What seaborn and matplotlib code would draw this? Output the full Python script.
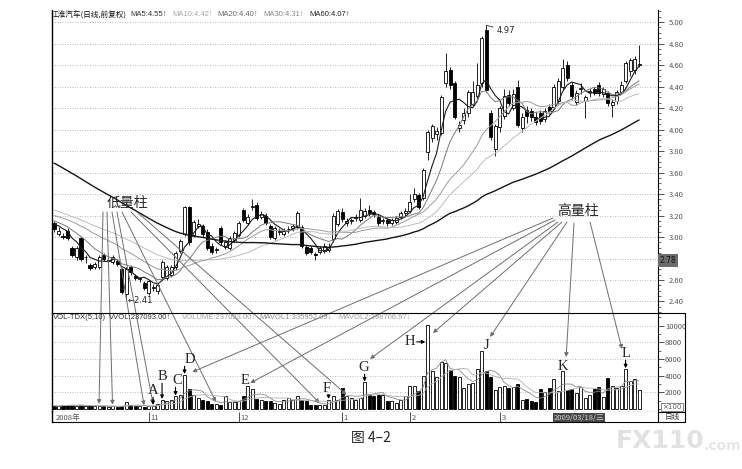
import matplotlib
matplotlib.use("Agg")
import matplotlib.pyplot as plt
from matplotlib.lines import Line2D
from matplotlib.ticker import MultipleLocator
import numpy as np
import pandas as pd
import seaborn as sns

# daily bars, Oct 2008 - Apr 2009 (prices in yuan, volume in lots of 100)
opens = [3.13, 3.03, 3.01, 3.06, 2.90, 2.81, 2.99, 2.81, 2.74, 2.72,
         2.72, 2.83, 2.78, 2.77, 2.78, 2.70, 2.47, 2.72, 2.64, 2.61,
         2.57, 2.48, 2.53, 2.50, 2.63, 2.62, 2.65, 2.72, 2.87, 3.03,
         3.28, 3.02, 3.10, 3.10, 3.05, 2.92, 2.88, 3.08, 2.91, 2.90,
         2.97, 3.02, 3.25, 3.13, 3.28, 3.30, 3.19, 3.20, 3.10, 2.99,
         3.05, 3.03, 3.07, 3.08, 3.09, 3.09, 2.91, 2.90, 2.84, 2.86,
         2.87, 2.88, 2.98, 3.12, 3.23, 3.13, 3.15, 3.18, 3.16, 3.20,
         3.25, 3.23, 3.19, 3.15, 3.16, 3.13, 3.14, 3.19, 3.22, 3.24,
         3.35, 3.39, 3.36, 3.79, 3.92, 3.96, 3.97, 4.43, 4.55, 4.43,
         4.01, 4.09, 4.15, 4.24, 4.31, 4.43, 4.93, 4.15, 3.82, 4.02,
         4.13, 4.32, 4.20, 4.40, 4.01, 4.18, 4.17, 4.12, 4.15, 4.10,
         4.21, 4.21, 4.27, 4.40, 4.60, 4.41, 4.26, 4.38, 4.27, 4.35,
         4.38, 4.41, 4.33, 4.34, 4.23, 4.27, 4.35, 4.45, 4.54, 4.55,
         4.60]
highs = [3.15, 3.09, 3.04, 3.08, 2.92, 2.92, 3.00, 2.83, 2.76, 2.77,
         2.83, 2.85, 2.80, 2.83, 2.80, 2.71, 2.72, 2.74, 2.66, 2.63,
         2.59, 2.60, 2.56, 2.57, 2.79, 2.74, 2.74, 2.87, 2.98, 3.29,
         3.29, 3.16, 3.17, 3.12, 3.07, 2.94, 2.91, 3.10, 2.97, 3.01,
         3.06, 3.15, 3.27, 3.21, 3.35, 3.33, 3.24, 3.22, 3.12, 3.10,
         3.08, 3.08, 3.10, 3.12, 3.24, 3.11, 2.93, 2.92, 2.86, 2.92,
         2.94, 2.94, 3.22, 3.26, 3.27, 3.18, 3.18, 3.21, 3.36, 3.27,
         3.30, 3.25, 3.21, 3.18, 3.18, 3.18, 3.20, 3.24, 3.27, 3.40,
         3.46, 3.41, 3.64, 4.00, 4.05, 4.02, 4.32, 4.71, 4.58, 4.45,
         4.08, 4.20, 4.37, 4.45, 4.62, 4.87, 4.97, 4.18, 4.05, 4.22,
         4.38, 4.37, 4.38, 4.46, 4.15, 4.22, 4.20, 4.16, 4.18, 4.20,
         4.24, 4.42, 4.48, 4.66, 4.64, 4.44, 4.37, 4.43, 4.32, 4.38,
         4.40, 4.44, 4.40, 4.36, 4.28, 4.37, 4.45, 4.64, 4.67, 4.68,
         4.79]
lows = [3.05, 3.01, 2.98, 2.97, 2.81, 2.79, 2.78, 2.76, 2.69, 2.70,
        2.70, 2.78, 2.76, 2.75, 2.73, 2.47, 2.41, 2.65, 2.60, 2.58,
        2.51, 2.46, 2.50, 2.47, 2.61, 2.60, 2.63, 2.69, 2.85, 3.01,
        2.93, 3.00, 3.08, 3.00, 2.88, 2.84, 2.85, 2.93, 2.89, 2.88,
        2.95, 3.00, 3.14, 3.11, 3.25, 3.16, 3.17, 3.11, 2.98, 2.97,
        3.02, 3.01, 3.04, 3.06, 3.07, 2.90, 2.83, 2.84, 2.79, 2.84,
        2.85, 2.86, 2.96, 3.10, 3.14, 3.10, 3.12, 3.15, 3.14, 3.18,
        3.20, 3.19, 3.10, 3.12, 3.10, 3.11, 3.12, 3.17, 3.20, 3.22,
        3.33, 3.26, 3.34, 3.72, 3.88, 3.90, 3.95, 4.40, 4.38, 4.10,
        3.98, 4.05, 4.12, 4.22, 4.28, 4.40, 4.35, 3.90, 3.75, 3.98,
        4.10, 4.22, 4.18, 4.02, 3.98, 4.06, 4.08, 4.04, 4.05, 4.07,
        4.14, 4.19, 4.24, 4.38, 4.45, 4.28, 4.23, 4.33, 4.11, 4.30,
        4.32, 4.31, 4.30, 4.22, 4.12, 4.24, 4.33, 4.43, 4.50, 4.52,
        4.58]
closes = [3.07, 3.06, 3.00, 2.99, 2.83, 2.90, 2.80, 2.81, 2.71, 2.75,
          2.81, 2.80, 2.78, 2.81, 2.75, 2.49, 2.70, 2.67, 2.62, 2.61,
          2.53, 2.59, 2.53, 2.55, 2.77, 2.72, 2.72, 2.85, 2.96, 3.28,
          2.95, 3.14, 3.12, 3.03, 2.90, 2.86, 2.88, 2.95, 2.95, 2.99,
          3.04, 3.13, 3.16, 3.19, 3.29, 3.18, 3.21, 3.13, 3.00, 3.08,
          3.05, 3.06, 3.07, 3.10, 3.22, 2.92, 2.85, 2.86, 2.83, 2.90,
          2.92, 2.91, 3.20, 3.24, 3.17, 3.15, 3.15, 3.18, 3.25, 3.24,
          3.22, 3.21, 3.13, 3.15, 3.13, 3.16, 3.18, 3.22, 3.24, 3.33,
          3.40, 3.28, 3.62, 3.98, 4.03, 3.99, 4.30, 4.54, 4.41, 4.12,
          4.04, 4.15, 4.35, 4.35, 4.41, 4.85, 4.37, 3.93, 4.03, 4.20,
          4.31, 4.25, 4.33, 4.04, 4.12, 4.13, 4.12, 4.07, 4.08, 4.17,
          4.17, 4.40, 4.45, 4.57, 4.48, 4.31, 4.34, 4.39, 4.30, 4.35,
          4.34, 4.34, 4.38, 4.25, 4.26, 4.35, 4.41, 4.62, 4.65, 4.66,
          4.61]
volumes = [400, 320, 480, 520, 480, 400, 480, 320, 320, 320,
           400, 320, 240, 320, 240, 400, 800, 480, 320, 320,
           240, 320, 400, 640, 1120, 920, 1120, 1520, 1720, 4120,
           2400, 1720, 1320, 1120, 920, 640, 640, 520, 1520, 800,
           800, 920, 1520, 2720, 2400, 1200, 1120, 920, 920, 720,
           640, 1120, 1320, 1120, 1520, 1120, 920, 520, 520, 520,
           520, 1120, 1520, 1120, 2520, 1520, 1320, 1120, 1320, 3200,
           1720, 1600, 1720, 1720, 920, 920, 720, 1120, 1520, 2720,
           2720, 2120, 3920, 10100, 4520, 3840, 5600, 5520, 4720, 4000,
           3840, 2520, 3040, 3120, 4800, 6920, 4520, 3840, 2320, 2640,
           2720, 2520, 2640, 3040, 1120, 1200, 920, 800, 2400, 2000,
           2520, 3600, 2120, 4520, 2240, 2400, 1920, 2640, 1320, 1720,
           2400, 2640, 1440, 3720, 2800, 2520, 2800, 4800, 3320, 3600,
           2320]
# closes before the visible window, only used to feed the moving averages
prior_closes = [4.42, 4.45, 4.40, 4.38, 4.35, 4.36, 4.30, 4.28, 4.31, 4.25,
                4.22, 4.20, 4.18, 4.15, 4.17, 4.12, 4.08, 4.05, 4.02, 4.06,
                4.00, 3.98, 3.95, 3.97, 3.92, 3.90, 3.88, 3.85, 3.80, 3.70,
                3.55, 3.45, 3.40, 3.38, 3.32, 3.35, 3.30, 3.28, 3.25, 3.30,
                3.28, 3.30, 3.25, 3.22, 3.27, 3.24, 3.20, 3.26, 3.23, 3.25,
                3.22, 3.18, 3.20, 3.15, 3.17, 3.12, 3.14, 3.10, 3.15]

month_starts = [21, 41, 64, 79, 99]
month_labels = ["11", "12", "1", "2", "3"]
price_ticks = [2.4, 2.6, 2.8, 3.0, 3.2, 3.4, 3.6, 3.8, 4.0, 4.2, 4.4, 4.6, 4.8, 5.0]
vol_ticks = [2000, 4000, 6000, 8000, 10000]
low_bars = [10, 13, 20, 22, 36, 59, 65]

sns.set_theme(style="white")
plt.rcParams["font.family"] = ["Noto Sans CJK SC", "DejaVu Sans"]
plt.rcParams["axes.unicode_minus"] = False

W, H = 742, 469
fig = plt.figure(figsize=(W / 100, H / 100), dpi=100, facecolor="white")


def box(x0, y0, x1, y1):
    return [x0 / W, 1 - y1 / H, (x1 - x0) / W, (y1 - y0) / H]


ax = fig.add_axes(box(52, 10, 658, 313))
axv = fig.add_axes(box(52, 313, 658, 412))
axd = fig.add_axes(box(52, 412, 658, 422))

n = len(closes)
idx = np.arange(n)
o, hi, lo, c = (np.asarray(a) for a in (opens, highs, lows, closes))
face = np.where(c >= o, "white", "black")

# candles
ax.vlines(idx, lo, hi, color="black", lw=0.6, zorder=3)
ax.bar(idx, np.maximum(np.abs(c - o), 0.006), bottom=np.minimum(o, c), width=0.68,
       color=face, edgecolor="black", linewidth=0.6, zorder=4)

full = pd.Series(prior_closes + closes)
ma_styles = {5: ("#1c1c1c", 0.8), 10: ("#7a7a7a", 0.7), 20: ("#9c9c9c", 0.7),
             30: ("#bdbdbd", 0.7), 60: ("#151515", 1.0)}
for w, (col, lw) in ma_styles.items():
    ma = full.rolling(w).mean().iloc[len(prior_closes):].to_numpy()
    sns.lineplot(x=idx, y=ma, ax=ax, color=col, linewidth=lw, legend=False, zorder=5)

# volume
axv.bar(idx, volumes, width=0.68, color=face, edgecolor="black", linewidth=0.6, zorder=3)
vs = pd.Series(volumes)
for w, col in ((5, "#8a8a8a"), (10, "#b0b0b0")):
    sns.lineplot(x=idx, y=vs.rolling(w, min_periods=1).mean().to_numpy(), ax=axv,
                 color=col, linewidth=0.6, legend=False, zorder=4)

# axes cosmetics
for a in (ax, axv, axd):
    a.set_xlim(-0.45, 134.2)
    a.set_facecolor("white")
    a.set_xticks([])
    for s in a.spines.values():
        s.set_visible(False)
    a.spines["left"].set_visible(True)
    a.spines["left"].set_color("black")
    a.spines["left"].set_linewidth(1.0)
    a.spines["right"].set_visible(True)
    a.spines["right"].set_color("black")
    a.spines["right"].set_linewidth(0.8)

ax.set_ylim(2.293, 5.112)
ax.yaxis.tick_right()
ax.set_yticks(price_ticks)
ax.set_yticklabels(["" if abs(t - 2.8) < 1e-6 else f"{t:.2f}" for t in price_ticks])
ax.yaxis.set_minor_locator(MultipleLocator(0.05))
ax.tick_params(axis="y", which="major", right=True, left=False, length=4, width=0.6,
               color="#333333", labelsize=5.5, labelcolor="#555555", pad=4)
ax.tick_params(axis="y", which="minor", right=True, left=False, length=2, width=0.5, color="#333333")
ax.grid(axis="y", which="major", color="#a0a0a0", linestyle=(0, (1, 2)), linewidth=0.6)
ax.set_axisbelow(True)
ax.set_xlabel("")
ax.set_ylabel("")
ax.text(1.003, 2.78, "2.78", transform=ax.get_yaxis_transform(), fontsize=5.5, color="#111111",
        ha="left", va="center", family="DejaVu Sans",
        bbox=dict(boxstyle="square,pad=0.25", fc="#6c6c6c", ec="none"))

axv.set_ylim(-360, 11500)
axv.yaxis.tick_right()
axv.set_yticks(vol_ticks)
axv.set_yticklabels([str(t) for t in vol_ticks])
axv.yaxis.set_minor_locator(MultipleLocator(1000))
axv.tick_params(axis="y", which="major", right=True, left=False, length=4, width=0.6,
                color="#333333", labelsize=5.5, labelcolor="#555555", pad=1)
axv.tick_params(axis="y", which="minor", right=True, left=False, length=2, width=0.5, color="#333333")
axv.grid(axis="y", which="major", color="#a8a8a8", linestyle=(0, (1, 2)), linewidth=0.6)
axv.set_axisbelow(True)
axv.spines["bottom"].set_visible(True)
axv.spines["bottom"].set_color("black")
axv.spines["bottom"].set_linewidth(0.8)
axv.set_xlabel("")
axv.set_ylabel("")

axd.set_ylim(0, 1)
axd.set_yticks([])
axd.vlines(month_starts, 0, 1, color="#333333", lw=0.6)
for m, lab in zip(month_starts, month_labels):
    axd.text(m + 0.4, 0.45, lab, fontsize=5.5, color="#555555", va="center", ha="left")
axd.text(0.3, 0.45, "2008年", fontsize=5.5, color="#555555", va="center", ha="left")
axd.text(111, 0.45, "2009/03/18/三", fontsize=5.5, color="#cfcfcf", va="center", ha="left",
         bbox=dict(boxstyle="square,pad=0.12", fc="#4a4a4a", ec="none"))

# frame lines outside the axes
for xs, ys in (([52, 685], [313, 313]), ([52, 685], [422, 422]), ([685, 685], [313, 422]),
               ([658, 685], [412, 412])):
    fig.add_artist(Line2D([x / W for x in xs], [1 - y / H for y in ys], color="black", lw=0.8))
fig.text(672 / W, 1 - 407 / H, "×100", fontsize=5, color="#555555", ha="center", va="center",
         family="DejaVu Sans", bbox=dict(boxstyle="square,pad=0.2", fc="white", ec="#555555", lw=0.5))
fig.text(672 / W, 1 - 417 / H, "日线", fontsize=5.5, color="#333333", ha="center", va="center")

# header lines
fig.text(51 / W, 1 - 15 / H, "江淮汽车(日线,前复权)", fontsize=5.5, color="#111111", va="center")
for xp, txt, col in ((130, "MA5:4.55↑", "#333333"), (172, "MA10:4.42↑", "#a8a8a8"),
                     (217, "MA20:4.40↑", "#666666"), (263, "MA30:4.31↑", "#888888"),
                     (309, "MA60:4.07↑", "#222222")):
    fig.text(xp / W, 1 - 15 / H, txt, fontsize=5.5, color=col, va="center",
             family=["Liberation Sans", "DejaVu Sans"])
for xp, txt, col in ((53, "VOL-TDX(5,10)", "#333333"), (109, "VVOL:237093.00↑", "#333333"),
                     (182, "VOLUME:237093.00↓", "#a0a0a0"), (259, "MAVOL1:335952.09↓", "#909090"),
                     (338, "MAVOL2:298706.97↓", "#a0a0a0")):
    fig.text(xp / W, 1 - 317 / H, txt, fontsize=5.5, color=col, va="center",
             family=["Liberation Sans", "DejaVu Sans"])

# price labels
ax.annotate("4.97", xy=(96, 4.97), xytext=(98.3, 4.925), fontsize=6, family="DejaVu Sans",
            va="center", ha="left", arrowprops=dict(arrowstyle="-", lw=0.6, color="#333333",
                                                    shrinkA=0, shrinkB=0))
ax.text(16.3, 2.41, "←2.41", fontsize=6, family="DejaVu Sans", va="center", ha="left")

# low / high volume call-outs
arrow_kw = dict(arrowstyle="-|>", color="#6e6e6e", lw=0.7, mutation_scale=6, shrinkA=0, shrinkB=0)
fig.text(127 / W, 1 - 203 / H, "低量柱", fontsize=10, ha="center", va="center")
low_tails = [(103, 212), (107, 212), (112, 212), (117, 212), (122, 212), (131, 212), (137, 212)]
for (px, py), b in zip(low_tails, low_bars):
    axv.annotate("", xy=(b, volumes[b] + 200), xytext=(px, H - py), textcoords="figure pixels",
                 arrowprops=arrow_kw)

fig.text(578 / W, 1 - 211 / H, "高量柱", fontsize=10, ha="center", va="center")
high_heads = [(30.7, 4430), (43.6, 3110), (70.2, 6000), (84.2, 9100), (96.9, 8630),
              (113.8, 6230), (126.2, 7190)]
high_tails = [(553, 218), (555, 220), (558, 222), (562, 222), (567, 222), (574, 223), (590, 222)]
for (hx, hy), (px, py) in zip(high_heads, high_tails):
    axv.annotate("", xy=(hx, hy), xytext=(px, H - py), textcoords="figure pixels",
                 arrowprops=arrow_kw)

letters = [("A", 22.0, 2160, 22), ("B", 24.2, 3840, 24), ("C", 27.3, 3360, 27),
           ("D", 30.2, 5880, 29), ("E", 42.4, 3360, None), ("F", 60.5, 2400, 61),
           ("G", 68.7, 4920, 69), ("H", 79.1, 8040, None), ("J", 96.0, 7560, None),
           ("K", 113.0, 5150, None), ("L", 127.0, 6590, 127)]
for ch, lx, ly, b in letters:
    axv.text(lx, ly, ch, fontsize=10.5, family="Liberation Serif", ha="center", va="center", zorder=6)
    if b is not None:
        axv.annotate("", xy=(b, volumes[b] + 80), xytext=(b, ly - 750),
                     arrowprops=dict(arrowstyle="-|>", color="black", lw=0.8, mutation_scale=5,
                                     shrinkA=0, shrinkB=0))
axv.annotate("", xy=(82.5, 8040), xytext=(80.6, 8040),
             arrowprops=dict(arrowstyle="-|>", color="black", lw=0.8, mutation_scale=5,
                             shrinkA=0, shrinkB=0))

# caption and watermark
fig.text(371 / W, 1 - 438 / H, "图 4–2", fontsize=10, ha="center", va="center",
         family=["Noto Sans CJK SC", "DejaVu Sans"])
fig.text(660 / W, 1 - 441 / H, "FX110", fontsize=18, fontweight="bold", color="#e2e2e2",
         ha="center", va="center", family="DejaVu Sans")
fig.text(704 / W, 1 - 446 / H, ".com", fontsize=10, fontweight="bold", color="#e6e6e6",
         ha="left", va="center", family="DejaVu Sans")

fig.savefig("out.png", dpi=100, facecolor="white")
